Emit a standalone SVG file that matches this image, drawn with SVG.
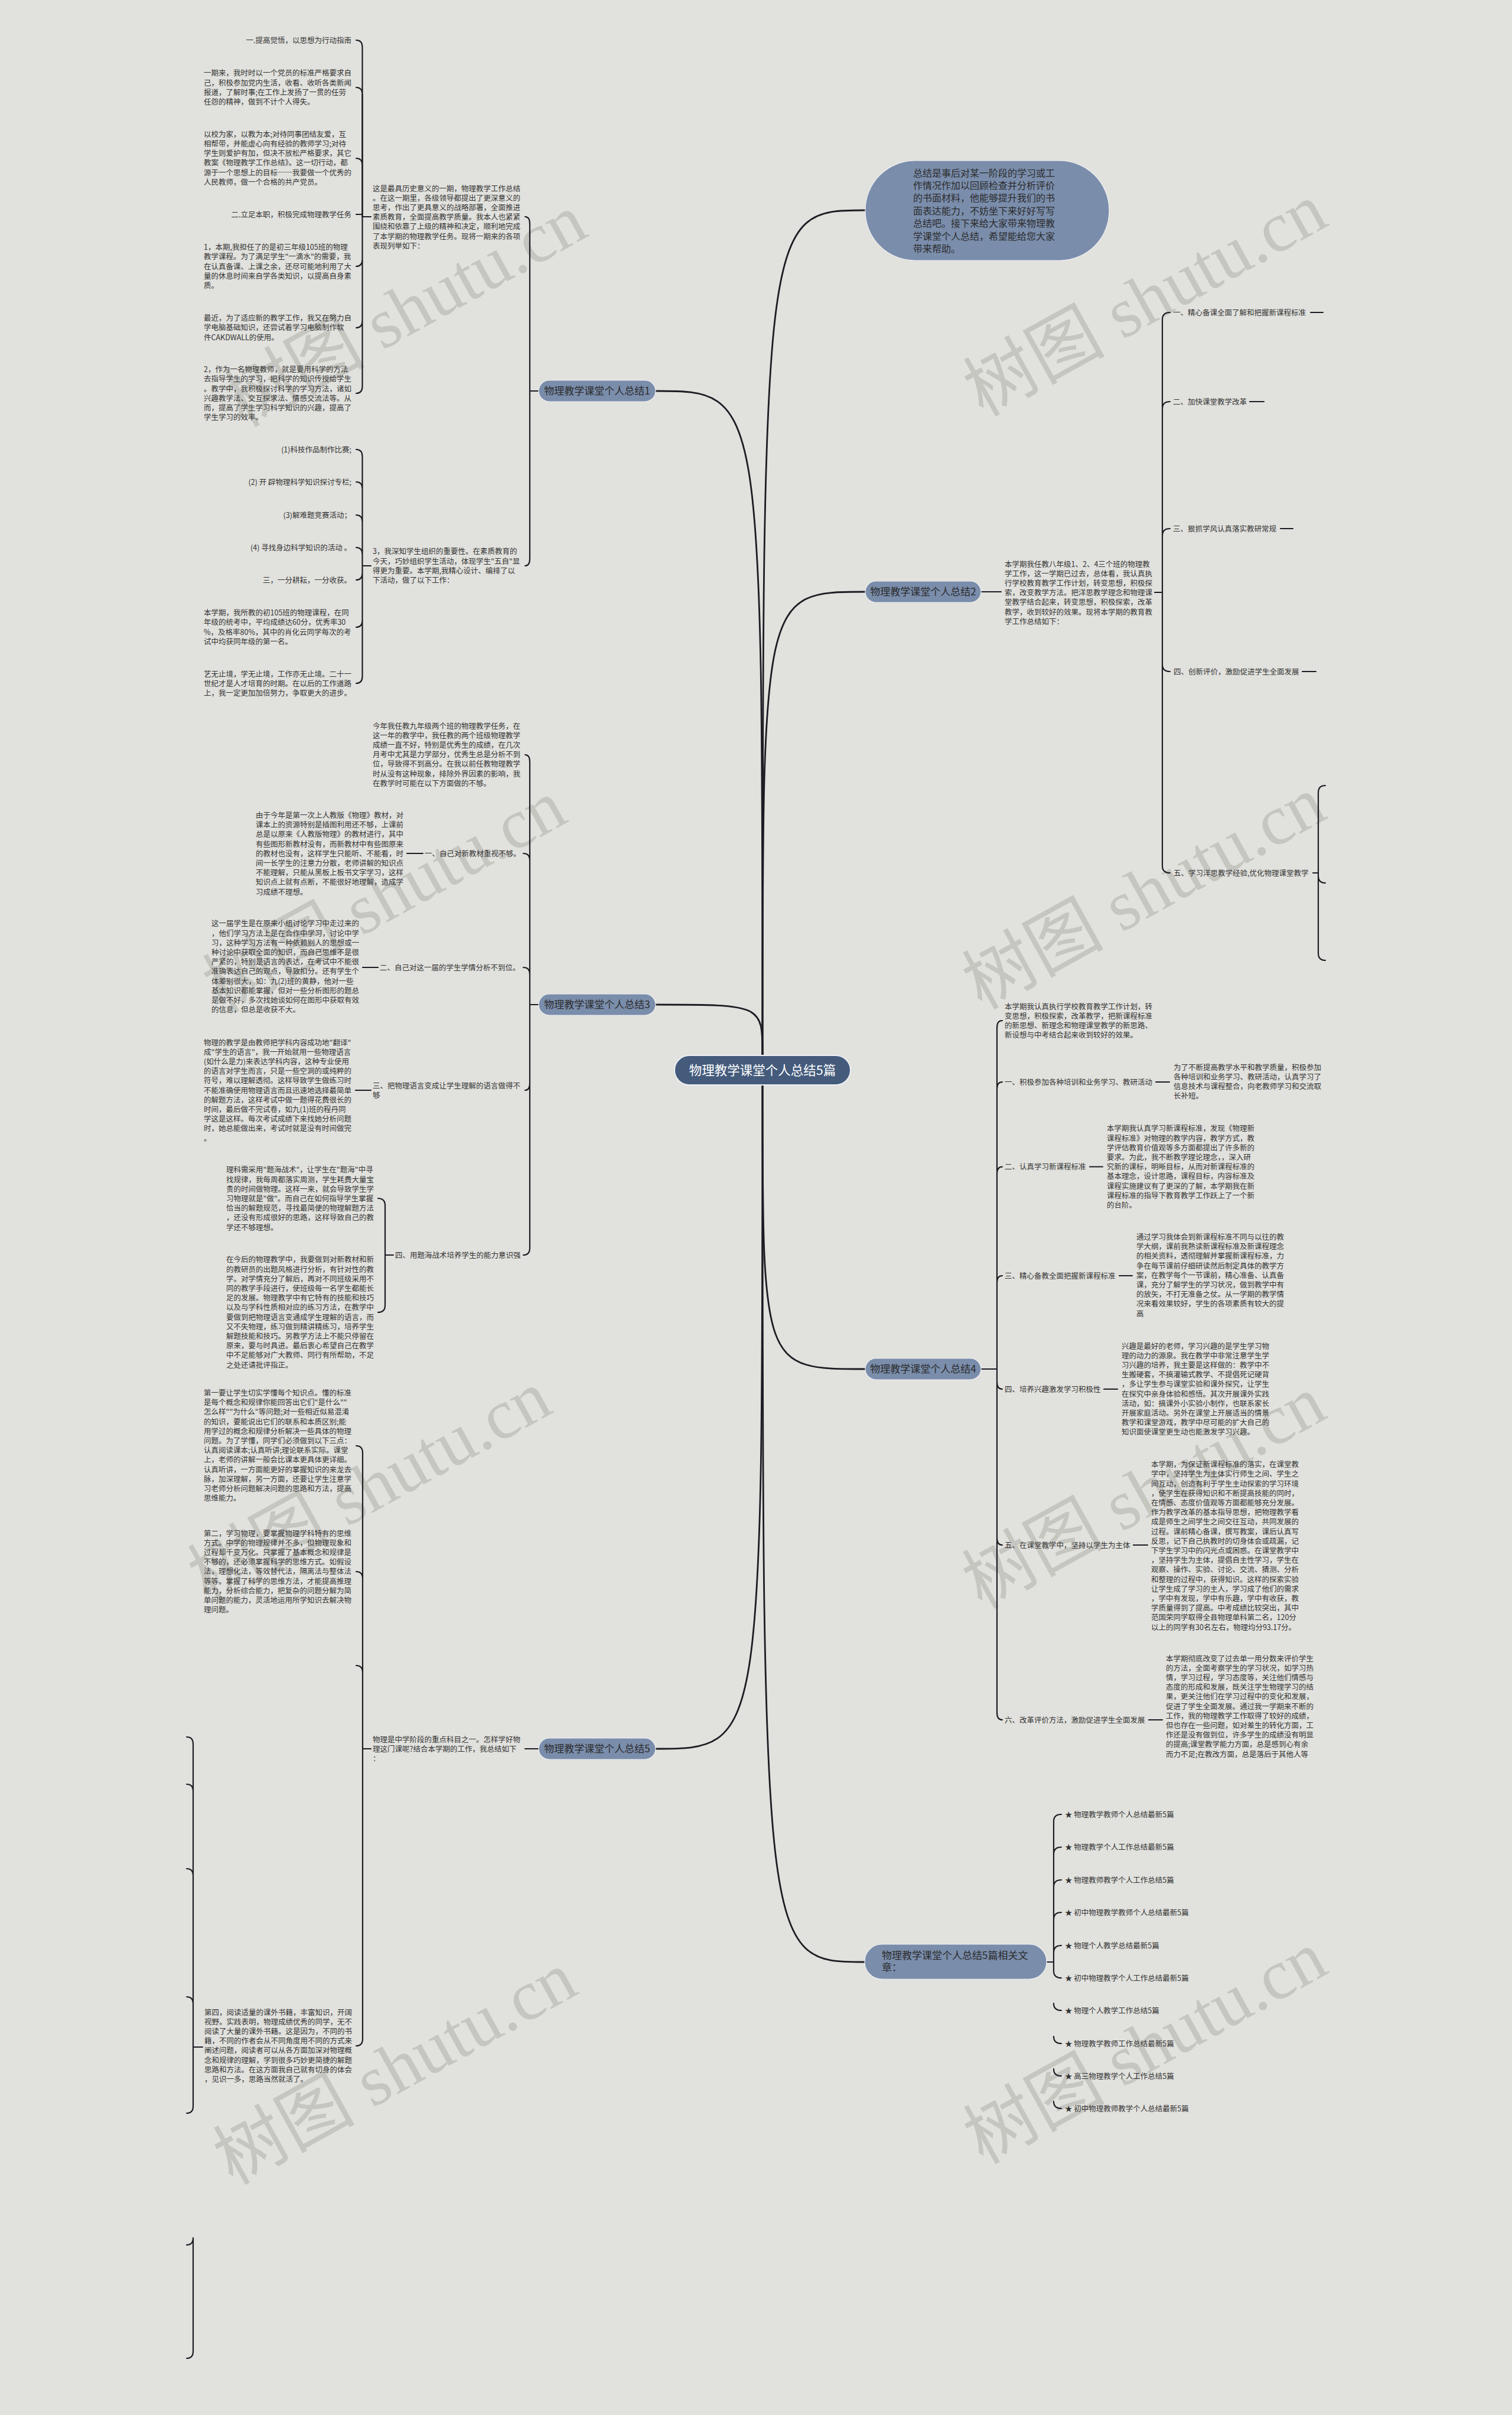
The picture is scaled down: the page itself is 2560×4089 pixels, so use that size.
<svg xmlns="http://www.w3.org/2000/svg" width="2560" height="4089" viewBox="0 0 2560 4089">
<style>
.t{font-family:"Noto Sans CJK SC","Noto Sans",sans-serif;font-size:12.5px;fill:#333}
.e{text-anchor:end}
.b{font-family:"Noto Sans CJK SC",sans-serif;font-size:17px;fill:#2b2b2b;text-anchor:middle}
.rb{font-family:"Noto Sans CJK SC",sans-serif;font-size:17px;fill:#2b2b2b}
.c{font-family:"Noto Sans CJK SC",sans-serif;font-size:21.5px;fill:#fff;text-anchor:middle}
.i{font-family:"Noto Sans CJK SC",sans-serif;font-size:16px;fill:#2b2b2b}
.wm{font-family:"Liberation Serif","Noto Sans CJK SC",serif;font-size:120px;fill:#c6c6c1;text-anchor:end}
.n{fill:#7a8dab;stroke:#eef0f3;stroke-width:1.2}
.l{fill:none;stroke:#1c1c24;stroke-width:2.2;stroke-linecap:round}
.m{fill:none;stroke:#1c1c24;stroke-width:2.8;stroke-linecap:round}
</style>
<rect width="2560" height="4089" fill="#e1e1dd"/>
<g id="watermarks">
<text class="wm" transform="translate(2253,380) rotate(-29)">树图 shutu.cn</text>
<text class="wm" transform="translate(2251,1384) rotate(-29)">树图 shutu.cn</text>
<text class="wm" transform="translate(2251,2399) rotate(-29)">树图 shutu.cn</text>
<text class="wm" transform="translate(2253,3339) rotate(-29)">树图 shutu.cn</text>
<text class="wm" transform="translate(1000,398) rotate(-29)">树图 shutu.cn</text>
<text class="wm" transform="translate(965,1390) rotate(-29)">树图 shutu.cn</text>
<text class="wm" transform="translate(940,2390) rotate(-29)">树图 shutu.cn</text>
<text class="wm" transform="translate(983,3374) rotate(-29)">树图 shutu.cn</text>
</g>
<g id="connectors">
<path class="m" d="M1291 1787 C1291 356 1291 356 1465 356"/>
<path class="m" d="M1291 1787 C1291 662 1291 662 1110 662"/>
<path class="m" d="M1291 1787 C1291 1002 1291 1002 1465 1002"/>
<path class="m" d="M1291 1787 C1291 1701 1291 1701 1110 1701"/>
<path class="m" d="M1291 1837 C1291 2318 1291 2318 1465 2318"/>
<path class="m" d="M1291 1837 C1291 2961 1291 2961 1110 2961"/>
<path class="m" d="M1291 1837 C1291 3322 1291 3322 1464 3322"/>
<path class="l" d="M912 662 H897 V379 Q897 367 889 367 M912 662 H897 V946 Q897 958 889 958"/>
<path class="l" d="M628 367 H613.5 V80 Q613.5 68 603 68 M613.5 160 Q613.5 148 603 148 M613.5 280 Q613.5 268 603 268 M613.5 367 V363 H603 M613.5 367 V439 Q613.5 451 603 451 M613.5 543 Q613.5 555 603 555 M613.5 654 V654 Q613.5 666 603 666 M613.5 439 V654"/>
<path class="l" d="M613.5 160 V280 M613.5 280 V367"/>
<path class="l" d="M628 958 H613.5 V773 Q613.5 761 603 761 M613.5 828 Q613.5 816 603 816 M613.5 884 Q613.5 872 603 872 M613.5 939 Q613.5 927 603 927 M613.5 958 V970 Q613.5 982 603 982 M613.5 970 V1050 Q613.5 1062 603 1062 M613.5 1050 V1145 Q613.5 1157 603 1157"/>
<path class="l" d="M912 1701 H897 V1290 Q897 1278 889 1278 M897 1457 Q897 1445 886 1445 M897 1650 Q897 1638 886 1638 M897 1701 V1834 Q897 1846 889 1846 M897 1834 V2113 Q897 2125 886 2125"/>
<path class="l" d="M716 1445 H689 M640 1638 H614 M628 1846 H602"/>
<path class="l" d="M666 2125 H652 V2041 Q652 2029 640 2029 M652 2125 V2210 Q652 2222 640 2222"/>
<path class="l" d="M912 2961 H889"/>
<path class="l" d="M628 2961 H614 V2460 Q614 2448 603 2448 M614 2673 Q614 2661 603 2661 M614 2832 Q614 2820 603 2820 M614 2961 V3452 Q614 3464 603 3464"/>
<path class="l" d="M343 3466 H327 V2953 Q327 2941 316 2941 M327 3033 Q327 3021 316 3021 M327 3176 Q327 3164 316 3164 M327 3393 Q327 3381 316 3381 M327 3466 V3566 Q327 3578 316 3578 M327 3789 Q327 3801 316 3801 M327 3789 V3981 Q327 3993 316 3993"/>
<path class="l" d="M1661 1002 H1695"/>
<path class="l" d="M1955 1003 H1968 V541 Q1968 529 1981 529 M1968 692 Q1968 680 1981 680 M1968 907 Q1968 895 1981 895 M1968 1003 V1125 Q1968 1137 1981 1137 M1968 1125 V1466 Q1968 1478 1981 1478"/>
<path class="l" d="M2219 529 H2240 M2116 680 H2140 M2168 895 H2189 M2205 1137 H2228"/>
<path class="l" d="M2223 1478 H2232 V1342 Q2232 1330 2244 1330 M2232 1478 V1483 Q2232 1495 2244 1495 M2232 1483 V1614 Q2232 1626 2244 1626"/>
<path class="l" d="M1661 2318 H1688 V1740 Q1688 1728 1697 1728 M1688 1844 Q1688 1832 1697 1832 M1688 1987.5 Q1688 1975.5 1697 1975.5 M1688 2172 Q1688 2160 1697 2160 M1688 2318 V2340 Q1688 2352 1697 2352 M1688 2340 V2604 Q1688 2616 1697 2616 M1688 2604 V2900 Q1688 2912 1697 2912"/>
<path class="l" d="M1957 1832 H1980 M1845 1975.5 H1867 M1895 2160 H1917 M1869 2352 H1892 M1919 2616 H1943 M1945 2912 H1968"/>
<path class="l" d="M1772 3322 H1784 V3084 Q1784 3072 1797 3072 M1784 3139.5 Q1784 3127.5 1797 3127.5 M1784 3195 Q1784 3183 1797 3183 M1784 3250 Q1784 3238 1797 3238 M1784 3306 Q1784 3294 1797 3294 M1784 3322 V3337 Q1784 3349 1797 3349 M1784 3392 Q1784 3404 1797 3404 M1784 3448 Q1784 3460 1797 3460 M1784 3503 Q1784 3515 1797 3515 M1784 3558 Q1784 3570 1797 3570"/>
</g>
<g id="center"><rect x="1142" y="1787" width="298" height="50" rx="25" fill="#445b7c" stroke="#eef1f5" stroke-width="2"/><text class="c" x="1291" y="1820">物理教学课堂个人总结5篇</text></g>
<g id="intro"><rect class="n" x="1465" y="272" width="413" height="169" rx="84"/>
<text class="i" x="1546" y="298.6"><tspan x="1546">总结是事后对某一阶段的学习或工</tspan><tspan x="1546" dy="21.4">作情况作加以回顾检查并分析评价</tspan><tspan x="1546" dy="21.4">的书面材料，他能够提升我们的书</tspan><tspan x="1546" dy="21.4">面表达能力，不妨坐下来好好写写</tspan><tspan x="1546" dy="21.4">总结吧。接下来给大家带来物理教</tspan><tspan x="1546" dy="21.4">学课堂个人总结，希望能给您大家</tspan><tspan x="1546" dy="21.4">带来帮助。</tspan></text></g>
<g id="b1"><rect class="n" x="912" y="644" width="198" height="36" rx="18"/><text class="b" x="1011" y="668">物理教学课堂个人总结1</text></g>
<g id="b2"><rect class="n" x="1465" y="984" width="196" height="36" rx="18"/><text class="b" x="1563" y="1008">物理教学课堂个人总结2</text></g>
<g id="b3"><rect class="n" x="912" y="1683" width="198" height="36" rx="18"/><text class="b" x="1011" y="1707">物理教学课堂个人总结3</text></g>
<g id="b4"><rect class="n" x="1465" y="2300" width="196" height="36" rx="18"/><text class="b" x="1563" y="2324">物理教学课堂个人总结4</text></g>
<g id="b5"><rect class="n" x="912" y="2943" width="198" height="36" rx="18"/><text class="b" x="1011" y="2967">物理教学课堂个人总结5</text></g>
<g id="rel"><rect class="n" x="1464" y="3292" width="308" height="59" rx="29"/><text class="rb" x="1493" y="3317"><tspan x="1493">物理教学课堂个人总结5篇相关文</tspan><tspan x="1493" dy="20">章：</tspan></text></g>
<g id="b1-p1"><text class="t" x="631" y="323.5"><tspan x="631">这是最具历史意义的一期，物理教学工作总结</tspan><tspan x="631" dy="16.2">。在这一期里，各级领导都提出了更深意义的</tspan><tspan x="631" dy="16.2">思考，作出了更具意义的战略部署，全面推进</tspan><tspan x="631" dy="16.2">素质教育，全面提高教学质量。我本人也紧紧</tspan><tspan x="631" dy="16.2">围绕和依靠了上级的精神和决定，顺利地完成</tspan><tspan x="631" dy="16.2">了本学期的物理教学任务。现将一期来的各项</tspan><tspan x="631" dy="16.2">表现列举如下：</tspan></text></g>
<g id="b1-a1"><text class="t e" x="595" y="72.5">一.提高觉悟，以思想为行动指南</text></g>
<g id="b1-a2"><text class="t" x="345" y="128.3"><tspan x="345">一期来，我时时以一个党员的标准严格要求自</tspan><tspan x="345" dy="16.2">己，积极参加党内生活，收看、收听各类新闻</tspan><tspan x="345" dy="16.2">报道，了解时事;在工作上发扬了一贯的任劳</tspan><tspan x="345" dy="16.2">任怨的精神，做到不计个人得失。</tspan></text></g>
<g id="b1-a3"><text class="t" x="345" y="231.7"><tspan x="345">以校为家，以教为本;对待同事团结友爱，互</tspan><tspan x="345" dy="16.2">相帮带，并能虚心向有经验的教师学习;对待</tspan><tspan x="345" dy="16.2">学生则爱护有加，但决不放松严格要求，其它</tspan><tspan x="345" dy="16.2">教案《物理教学工作总结》。这一切行动，都</tspan><tspan x="345" dy="16.2">源于一个思想上的目标──我要做一个优秀的</tspan><tspan x="345" dy="16.2">人民教师，做一个合格的共产党员。</tspan></text></g>
<g id="b1-a4"><text class="t e" x="595" y="367.5">二.立足本职，积极完成物理教学任务</text></g>
<g id="b1-a5"><text class="t" x="345" y="423.2"><tspan x="345">1，本期,我担任了的是初三年级105班的物理</tspan><tspan x="345" dy="16.2">教学课程。为了满足学生"一滴水"的需要，我</tspan><tspan x="345" dy="16.2">在认真备课、上课之余，还尽可能地利用了大</tspan><tspan x="345" dy="16.2">量的休息时间来自学各类知识，以提高自身素</tspan><tspan x="345" dy="16.2">质。</tspan></text></g>
<g id="b1-a6"><text class="t" x="345" y="543.1"><tspan x="345">最近，为了适应新的教学工作，我又在努力自</tspan><tspan x="345" dy="16.2">学电脑基础知识，还尝试着学习电脑制作软</tspan><tspan x="345" dy="16.2">件CAKDWALL的使用。</tspan></text></g>
<g id="b1-a7"><text class="t" x="345" y="630.2"><tspan x="345">2，作为一名物理教师，就是要用科学的方法</tspan><tspan x="345" dy="16.2">去指导学生的学习，把科学的知识传授给学生</tspan><tspan x="345" dy="16.2">。教学中，我积极探讨科学的学习方法，诸如</tspan><tspan x="345" dy="16.2">兴趣教学法、交互探求法、情感交流法等。从</tspan><tspan x="345" dy="16.2">而，提高了学生学习科学知识的兴趣，提高了</tspan><tspan x="345" dy="16.2">学生学习的效率。</tspan></text></g>
<g id="b1-p2"><text class="t" x="631" y="938.3"><tspan x="631">3，我深知学生组织的重要性。在素质教育的</tspan><tspan x="631" dy="16.2">今天，巧妙组织学生活动，体现学生"五自"显</tspan><tspan x="631" dy="16.2">得更为重要。本学期,我精心设计、编排了以</tspan><tspan x="631" dy="16.2">下活动，做了以下工作：</tspan></text></g>
<g id="b1-b1"><text class="t e" x="595" y="765.5">(1)科技作品制作比赛;</text></g>
<g id="b1-b2"><text class="t e" x="595" y="821">(2) 开 辟物理科学知识探讨专栏;</text></g>
<g id="b1-b3"><text class="t e" x="595" y="876.5">(3)解难题竞赛活动；</text></g>
<g id="b1-b4"><text class="t e" x="595" y="931.5">(4) 寻找身边科学知识的活动 。</text></g>
<g id="b1-b5"><text class="t e" x="595" y="986.5">三，一分耕耘，一分收获。</text></g>
<g id="b1-b6"><text class="t" x="345" y="1042.2"><tspan x="345">本学期，我所教的初105班的物理课程，在同</tspan><tspan x="345" dy="16.2">年级的统考中，平均成绩达60分，优秀率30</tspan><tspan x="345" dy="16.2">%，及格率80%，其中的肖化云同学每次的考</tspan><tspan x="345" dy="16.2">试中均获同年级的第一名。</tspan></text></g>
<g id="b1-b7"><text class="t" x="345" y="1145.5"><tspan x="345">艺无止境，学无止境，工作亦无止境。二十一</tspan><tspan x="345" dy="16.2">世纪才是人才培育的时期。在以后的工作道路</tspan><tspan x="345" dy="16.2">上，我一定更加加倍努力，争取更大的进步。</tspan></text></g>
<g id="b3-c0"><text class="t" x="631" y="1233.5"><tspan x="631">今年我任教九年级两个班的物理教学任务，在</tspan><tspan x="631" dy="16.2">这一年的教学中，我任教的两个班级物理教学</tspan><tspan x="631" dy="16.2">成绩一直不好，特别是优秀生的成绩，在几次</tspan><tspan x="631" dy="16.2">月考中尤其是力学部分，优秀生总是分析不到</tspan><tspan x="631" dy="16.2">位，导致得不到高分。在我以前任教物理教学</tspan><tspan x="631" dy="16.2">时从没有这种现象，排除外界因素的影响，我</tspan><tspan x="631" dy="16.2">在教学时可能在以下方面做的不够。</tspan></text></g>
<g id="b3-c1"><text class="t" x="719" y="1449.5">一、自己对新教材重视不够。</text></g>
<g id="b3-c1p"><text class="t" x="433" y="1384.9"><tspan x="433">由于今年是第一次上人教版《物理》教材，对</tspan><tspan x="433" dy="16.2">课本上的资源特别是插图利用还不够，上课前</tspan><tspan x="433" dy="16.2">总是以原来《人教版物理》的教材进行，其中</tspan><tspan x="433" dy="16.2">有些图形新教材没有，而新教材中有些图原来</tspan><tspan x="433" dy="16.2">的教材也没有，这样学生只能听、不能看，时</tspan><tspan x="433" dy="16.2">间一长学生的注意力分散，老师讲解的知识点</tspan><tspan x="433" dy="16.2">不能理解，只能从黑板上板书文字学习，这样</tspan><tspan x="433" dy="16.2">知识点上就有点断，不能很好地理解，造成学</tspan><tspan x="433" dy="16.2">习成绩不理想。</tspan></text></g>
<g id="b3-c2"><text class="t" x="643" y="1642.5">二、自己对这一届的学生学情分析不到位。</text></g>
<g id="b3-c2p"><text class="t" x="358" y="1568.3"><tspan x="358">这一届学生是在原来小组讨论学习中走过来的</tspan><tspan x="358" dy="16.2">，他们学习方法上是在合作中学习，讨论中学</tspan><tspan x="358" dy="16.2">习，这种学习方法有一种依赖别人的思想或一</tspan><tspan x="358" dy="16.2">种讨论中获取全面的知识，而自己思维不是很</tspan><tspan x="358" dy="16.2">严紧的，特别是语言的表达，在考试中不能很</tspan><tspan x="358" dy="16.2">准确表达自己的观点，导致扣分。还有学生个</tspan><tspan x="358" dy="16.2">体差别很大，如：九(2)班的黄静，他对一些</tspan><tspan x="358" dy="16.2">基本知识都能掌握，但对一些分析图形的题总</tspan><tspan x="358" dy="16.2">是做不好，多次找她谈如何在图形中获取有效</tspan><tspan x="358" dy="16.2">的信息，但总是收获不大。</tspan></text></g>
<g id="b3-c3"><text class="t" x="631" y="1842.5"><tspan x="631">三、把物理语言变成让学生理解的语言做得不</tspan><tspan x="631" dy="16.2">够</tspan></text></g>
<g id="b3-c3p"><text class="t" x="345" y="1769.5"><tspan x="345">物理的教学是由教师把学科内容成功地"翻译"</tspan><tspan x="345" dy="16.2">成"学生的语言"，我一开始就用一些物理语言</tspan><tspan x="345" dy="16.2">(如什么是力)来表达学科内容，这种专业使用</tspan><tspan x="345" dy="16.2">的语言对学生而言，只是一些空洞的或纯粹的</tspan><tspan x="345" dy="16.2">符号，难以理解透彻。这样导致学生做练习时</tspan><tspan x="345" dy="16.2">不能准确使用物理语言而且迅速地选择最简单</tspan><tspan x="345" dy="16.2">的解题方法，这样考试中做一题得花费很长的</tspan><tspan x="345" dy="16.2">时间，最后做不完试卷，如九(1)班的程丹同</tspan><tspan x="345" dy="16.2">学这是这样。每次考试成绩下来找她分析问题</tspan><tspan x="345" dy="16.2">时，她总能做出来，考试时就是没有时间做完</tspan><tspan x="345" dy="16.2">。</tspan></text></g>
<g id="b3-c4"><text class="t" x="669" y="2129.5">四、用题海战术培养学生的能力意识强</text></g>
<g id="b3-c4a"><text class="t" x="383" y="1985.3"><tspan x="383">理科需采用"题海战术"，让学生在"题海"中寻</tspan><tspan x="383" dy="16.2">找规律，我每周都落实周测，学生耗费大量宝</tspan><tspan x="383" dy="16.2">贵的时间做物理。这样一来，就会导致学生学</tspan><tspan x="383" dy="16.2">习物理就是"做"。而自己在如何指导学生掌握</tspan><tspan x="383" dy="16.2">恰当的解题规范，寻找最简便的物理解题方法</tspan><tspan x="383" dy="16.2">，还没有形成很好的思路，这样导致自己的教</tspan><tspan x="383" dy="16.2">学还不够理想。</tspan></text></g>
<g id="b3-c4b"><text class="t" x="383" y="2137.4"><tspan x="383">在今后的物理教学中，我要做到对新教材和新</tspan><tspan x="383" dy="16.2">的教研员的出题风格进行分析，有针对性的教</tspan><tspan x="383" dy="16.2">学。对学情充分了解后，再对不同班级采用不</tspan><tspan x="383" dy="16.2">同的教学手段进行，使班级每一名学生都能长</tspan><tspan x="383" dy="16.2">足的发展。物理教学中有它特有的技能和技巧</tspan><tspan x="383" dy="16.2">以及与学科性质相对应的练习方法，在教学中</tspan><tspan x="383" dy="16.2">要做到把物理语言变通成学生理解的语言，而</tspan><tspan x="383" dy="16.2">又不失物理，练习做到精讲精练习，培养学生</tspan><tspan x="383" dy="16.2">解题技能和技巧。另教学方法上不能只停留在</tspan><tspan x="383" dy="16.2">原来，要与时具进。最后衷心希望自己在教学</tspan><tspan x="383" dy="16.2">中不足能够对广大教师、同行有所帮助，不足</tspan><tspan x="383" dy="16.2">之处还请批评指正。</tspan></text></g>
<g id="b5-d0"><text class="t" x="631" y="2949.5"><tspan x="631">物理是中学阶段的重点科目之一。怎样学好物</tspan><tspan x="631" dy="16.2">理这门课呢?结合本学期的工作，我总结如下</tspan><tspan x="631" dy="16.2">：</tspan></text></g>
<g id="b5-d1"><text class="t" x="345" y="2363"><tspan x="345">第一要让学生切实学懂每个知识点。懂的标准</tspan><tspan x="345" dy="16.2">是每个概念和规律你能回答出它们"是什么""</tspan><tspan x="345" dy="16.2">怎么样""为什么"等问题;对一些相近似易混淆</tspan><tspan x="345" dy="16.2">的知识，要能说出它们的联系和本质区别;能</tspan><tspan x="345" dy="16.2">用学过的概念和规律分析解决一些具体的物理</tspan><tspan x="345" dy="16.2">问题。为了学懂，同学们必须做到以下三点：</tspan><tspan x="345" dy="16.2">认真阅读课本;认真听讲;理论联系实际。课堂</tspan><tspan x="345" dy="16.2">上，老师的讲解一般会比课本更具体更详细。</tspan><tspan x="345" dy="16.2">认真听讲，一方面能更好的掌握知识的来龙去</tspan><tspan x="345" dy="16.2">脉，加深理解，另一方面，还要让学生注意学</tspan><tspan x="345" dy="16.2">习老师分析问题解决问题的思路和方法，提高</tspan><tspan x="345" dy="16.2">思维能力。</tspan></text></g>
<g id="b5-d2"><text class="t" x="345" y="2600.5"><tspan x="345">第二，学习物理，要掌握物理学科特有的思维</tspan><tspan x="345" dy="16.2">方式。中学的物理规律并不多，但物理现象和</tspan><tspan x="345" dy="16.2">过程却千变万化。只掌握了基本概念和规律是</tspan><tspan x="345" dy="16.2">不够的，还必须掌握科学的思维方式。如假设</tspan><tspan x="345" dy="16.2">法，理想化法，等效替代法，隔离法与整体法</tspan><tspan x="345" dy="16.2">等等。掌握了科学的思维方法，才能提高推理</tspan><tspan x="345" dy="16.2">能力，分析综合能力，把复杂的问题分解为简</tspan><tspan x="345" dy="16.2">单问题的能力，灵活地运用所学知识去解决物</tspan><tspan x="345" dy="16.2">理问题。</tspan></text></g>
<g id="b5-d4"><text class="t" x="346" y="3411.5"><tspan x="346">第四，阅读适量的课外书籍，丰富知识，开阔</tspan><tspan x="346" dy="16.2">视野。实践表明，物理成绩优秀的同学，无不</tspan><tspan x="346" dy="16.2">阅读了大量的课外书籍。这是因为，不同的书</tspan><tspan x="346" dy="16.2">籍，不同的作者会从不同角度用不同的方式来</tspan><tspan x="346" dy="16.2">阐述问题，阅读者可以从各方面加深对物理概</tspan><tspan x="346" dy="16.2">念和规律的理解，学到很多巧妙更简捷的解题</tspan><tspan x="346" dy="16.2">思路和方法。在这方面我自己就有切身的体会</tspan><tspan x="346" dy="16.2">，见识一多，思路当然就活了。</tspan></text></g>
<g id="b2-p"><text class="t" x="1701" y="959.5"><tspan x="1701">本学期我任教八年级1、2、4三个班的物理教</tspan><tspan x="1701" dy="16.2">学工作，这一学期已过去，总体看，我认真执</tspan><tspan x="1701" dy="16.2">行学校教育教学工作计划，转变思想，积极探</tspan><tspan x="1701" dy="16.2">索，改变教学方法。把洋思教学理念和物理课</tspan><tspan x="1701" dy="16.2">堂教学结合起来，转变思想，积极探索，改革</tspan><tspan x="1701" dy="16.2">教学，收到较好的效果。现将本学期的教育教</tspan><tspan x="1701" dy="16.2">学工作总结如下：</tspan></text></g>
<g id="b2-e1"><text class="t" x="1986" y="533.5">一、精心备课全面了解和把握新课程标准</text></g>
<g id="b2-e2"><text class="t" x="1986" y="684.5">二、加快课堂教学改革</text></g>
<g id="b2-e3"><text class="t" x="1986" y="899.5">三、狠抓学风认真落实教研常规</text></g>
<g id="b2-e4"><text class="t" x="1987" y="1141.5">四、创新评价，激励促进学生全面发展</text></g>
<g id="b2-e5"><text class="t" x="1987" y="1482.5">五、学习洋思教学经验,优化物理课堂教学</text></g>
<g id="b4-f0"><text class="t" x="1701" y="1708.5"><tspan x="1701">本学期我认真执行学校教育教学工作计划，转</tspan><tspan x="1701" dy="16.2">变思想，积极探索，改革教学，把新课程标准</tspan><tspan x="1701" dy="16.2">的新思想、新理念和物理课堂教学的新思路、</tspan><tspan x="1701" dy="16.2">新设想与中考结合起来收到较好的效果。</tspan></text></g>
<g id="b4-f1"><text class="t" x="1701" y="1836.5">一、积极参加各种培训和业务学习、教研活动</text></g>
<g id="b4-f1p"><text class="t" x="1987" y="1811.8"><tspan x="1987">为了不断提高教学水平和教学质量，积极参加</tspan><tspan x="1987" dy="16.2">各种培训和业务学习、教研活动，认真学习了</tspan><tspan x="1987" dy="16.2">信息技术与课程整合，向老教师学习和交流取</tspan><tspan x="1987" dy="16.2">长补短。</tspan></text></g>
<g id="b4-f2"><text class="t" x="1701" y="1980">二、认真学习新课程标准</text></g>
<g id="b4-f2p"><text class="t" x="1874" y="1915.4"><tspan x="1874">本学期我认真学习新课程标准，发现《物理新</tspan><tspan x="1874" dy="16.2">课程标准》对物理的教学内容，教学方式，教</tspan><tspan x="1874" dy="16.2">学评估教育价值观等多方面都提出了许多新的</tspan><tspan x="1874" dy="16.2">要求。为此，我不断教学理论理念，，深入研</tspan><tspan x="1874" dy="16.2">究新的课标，明晰目标，从而对新课程标准的</tspan><tspan x="1874" dy="16.2">基本理念，设计思路，课程目标，内容标准及</tspan><tspan x="1874" dy="16.2">课程实施建议有了更深的了解，本学期我在新</tspan><tspan x="1874" dy="16.2">课程标准的指导下教育教学工作跃上了一个新</tspan><tspan x="1874" dy="16.2">的台阶。</tspan></text></g>
<g id="b4-f3"><text class="t" x="1701" y="2164.5">三、精心备教全面把握新课程标准</text></g>
<g id="b4-f3p"><text class="t" x="1924" y="2099"><tspan x="1924">通过学习我体会到新课程标准不同与以往的教</tspan><tspan x="1924" dy="16.2">学大纲，课前我熟读新课程标准及新课程理念</tspan><tspan x="1924" dy="16.2">的相关资料，透彻理解并掌握新课程标准，力</tspan><tspan x="1924" dy="16.2">争在每节课前仔细研读然后制定具体的教学方</tspan><tspan x="1924" dy="16.2">案，在教学每个一节课前，精心准备、认真备</tspan><tspan x="1924" dy="16.2">课，充分了解学生的学习状况，做到教学中有</tspan><tspan x="1924" dy="16.2">的放矢，不打无准备之仗。从一学期的教学情</tspan><tspan x="1924" dy="16.2">况来看效果较好，学生的各项素质有较大的提</tspan><tspan x="1924" dy="16.2">高</tspan></text></g>
<g id="b4-f4"><text class="t" x="1701" y="2356.5">四、培养兴趣激发学习积极性</text></g>
<g id="b4-f4p"><text class="t" x="1899" y="2283.5"><tspan x="1899">兴趣是最好的老师，学习兴趣的是学生学习物</tspan><tspan x="1899" dy="16.2">理的动力的源泉。我在教学中非常注意学生学</tspan><tspan x="1899" dy="16.2">习兴趣的培养，我主要是这样做的：教学中不</tspan><tspan x="1899" dy="16.2">生搬硬套，不搞灌输式教学、不提倡死记硬背</tspan><tspan x="1899" dy="16.2">，多让学生参与课堂实验和课外探究，让学生</tspan><tspan x="1899" dy="16.2">在探究中亲身体验和感悟。其次开展课外实践</tspan><tspan x="1899" dy="16.2">活动，如：搞课外小实验小制作，也联系家长</tspan><tspan x="1899" dy="16.2">开展家庭活动。另外在课堂上开展适当的情景</tspan><tspan x="1899" dy="16.2">教学和课堂游戏，教学中尽可能的扩大自己的</tspan><tspan x="1899" dy="16.2">知识面使课堂更生动也能激发学习兴趣。</tspan></text></g>
<g id="b4-f5"><text class="t" x="1701" y="2620.5">五、在课堂教学中，坚持以学生为主体</text></g>
<g id="b4-f5p"><text class="t" x="1949" y="2484.2"><tspan x="1949">本学期，为保证新课程标准的落实，在课堂教</tspan><tspan x="1949" dy="16.2">学中，坚持学生为主体实行师生之间、学生之</tspan><tspan x="1949" dy="16.2">间互动，创造有利于学生主动探索的学习环境</tspan><tspan x="1949" dy="16.2">，使学生在获得知识和不断提高技能的同时，</tspan><tspan x="1949" dy="16.2">在情感、态度价值观等方面都能够充分发展。</tspan><tspan x="1949" dy="16.2">作为教学改革的基本指导思想，把物理教学看</tspan><tspan x="1949" dy="16.2">成是师生之间学生之间交往互动，共同发展的</tspan><tspan x="1949" dy="16.2">过程。课前精心备课，撰写教案，课后认真写</tspan><tspan x="1949" dy="16.2">反思，记下自己执教时的切身体会或疏漏，记</tspan><tspan x="1949" dy="16.2">下学生学习中的闪光点或困惑。在课堂教学中</tspan><tspan x="1949" dy="16.2">，坚持学生为主体，提倡自主性学习，学生在</tspan><tspan x="1949" dy="16.2">观察、操作、实验、讨论、交流、猜测、分析</tspan><tspan x="1949" dy="16.2">和整理的过程中，获得知识。这样的探索实验</tspan><tspan x="1949" dy="16.2">让学生成了学习的主人，学习成了他们的需求</tspan><tspan x="1949" dy="16.2">，学中有发现，学中有乐趣，学中有收获，教</tspan><tspan x="1949" dy="16.2">学质量得到了提高。中考成绩比较突出，其中</tspan><tspan x="1949" dy="16.2">范国荣同学取得全县物理单科第二名，120分</tspan><tspan x="1949" dy="16.2">以上的同学有30名左右，物理均分93.17分。</tspan></text></g>
<g id="b4-f6"><text class="t" x="1701" y="2916.5">六、改革评价方法，激励促进学生全面发展</text></g>
<g id="b4-f6p"><text class="t" x="1974" y="2812.5"><tspan x="1974">本学期彻底改变了过去单一用分数来评价学生</tspan><tspan x="1974" dy="16.2">的方法，全面考察学生的学习状况，如学习热</tspan><tspan x="1974" dy="16.2">情，学习过程，学习态度等，关注他们情感与</tspan><tspan x="1974" dy="16.2">态度的形成和发展，既关注学生物理学习的结</tspan><tspan x="1974" dy="16.2">果，更关注他们在学习过程中的变化和发展，</tspan><tspan x="1974" dy="16.2">促进了学生全面发展。通过我一学期来不断的</tspan><tspan x="1974" dy="16.2">工作，我的物理教学工作取得了较好的成绩，</tspan><tspan x="1974" dy="16.2">但也存在一些问题，如对差生的转化方面，工</tspan><tspan x="1974" dy="16.2">作还是没有做到位，许多学生的成绩没有明显</tspan><tspan x="1974" dy="16.2">的提高;课堂教学能力方面，总是感到心有余</tspan><tspan x="1974" dy="16.2">而力不足;在教改方面，总是落后于其他人等</tspan></text></g>
<g id="rel-items">
<text class="t" x="1803" y="3076.5">★ 物理教学教师个人总结最新5篇</text>
<text class="t" x="1803" y="3132">★ 物理教学个人工作总结最新5篇</text>
<text class="t" x="1803" y="3187.5">★ 物理教师教学个人工作总结5篇</text>
<text class="t" x="1803" y="3242.5">★ 初中物理教学教师个人总结最新5篇</text>
<text class="t" x="1803" y="3298.5">★ 物理个人教学总结最新5篇</text>
<text class="t" x="1803" y="3353.5">★ 初中物理教学个人工作总结最新5篇</text>
<text class="t" x="1803" y="3408.5">★ 物理个人教学工作总结5篇</text>
<text class="t" x="1803" y="3464.5">★ 物理教学教师工作总结最新5篇</text>
<text class="t" x="1803" y="3519.5">★ 高三物理教学个人工作总结5篇</text>
<text class="t" x="1803" y="3574.5">★ 初中物理教师教学个人总结最新5篇</text>
</g>
</svg>
